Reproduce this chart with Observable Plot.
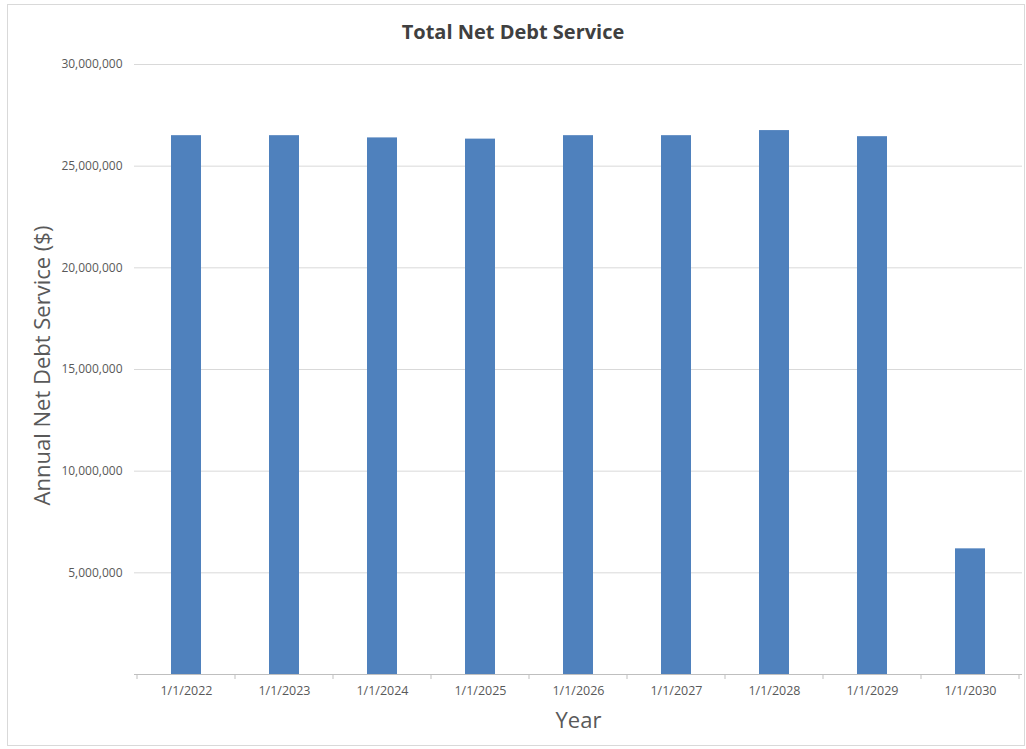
<!DOCTYPE html>
<html>
<head>
<meta charset="utf-8">
<script src="https://cdn.jsdelivr.net/npm/d3@7"></script>
<script src="https://cdn.jsdelivr.net/npm/@observablehq/plot@0.6"></script>
<style>
  html, body { margin: 0; padding: 0; background: #fff; }
  body { width: 1026px; height: 749px; position: relative; overflow: hidden; font-family: "Open Sans", sans-serif; }
  #frame { position: absolute; left: 7px; top: 4px; width: 1016px; height: 740px; border: 1px solid #d9d9d9; pointer-events: none; }
  #title { margin: 0; padding-top: 20px; height: 24px; line-height: 24px; text-align: center; font-size: 20px; font-weight: bold; color: #404040; }
  #chart svg { display: block; }
</style>
</head>
<body>
<div id="title">Total Net Debt Service</div>
<div id="chart"></div>
<div id="frame"></div>
<script>
const years = ["1/1/2022", "1/1/2023", "1/1/2024", "1/1/2025", "1/1/2026", "1/1/2027", "1/1/2028", "1/1/2029", "1/1/2030"];
const netDebtService = [26500000, 26500000, 26390000, 26330000, 26500000, 26500000, 26750000, 26450000, 6180000];
const yTicks = [5000000, 10000000, 15000000, 20000000, 25000000, 30000000];
const yTitle = "Annual Net Debt Service ($)";
const xTitle = "Year";

const data = years.map((year, i) => ({year, value: netDebtService[i]}));
const fmt = d3.format(",");

function categoryTicks(len) {
  return (index, scales) => {
    const x = scales.x;
    const bw = x.bandwidth ? x.bandwidth() : 0;
    const centers = years.map(d => x(d) + bw / 2);
    const step = centers[1] - centers[0];
    const bounds = centers.map(c => c - step / 2).concat([centers[centers.length - 1] + step / 2]);
    const y0 = scales.y(0);
    const g = d3.create("svg:g");
    g.selectAll("line").data(bounds).join("line")
      .attr("x1", d => d).attr("x2", d => d)
      .attr("y1", y0).attr("y2", y0 + len)
      .attr("stroke", "#bfbfbf");
    return g.node();
  };
}

const chart = Plot.plot({
  width: 1026,
  height: 700,
  marginTop: 20,
  marginBottom: 70,
  marginLeft: 134,
  marginRight: 4,
  style: {fontFamily: "'Open Sans', sans-serif", background: "#fff"},
  x: {domain: years, paddingInner: 0.69, paddingOuter: 0.345, label: null},
  y: {domain: [0, 30000000], label: null},
  marks: [
    Plot.gridY(yTicks, {stroke: "#d9d9d9", strokeOpacity: 1}),
    Plot.barY(data, {x: "year", y: "value", fill: "#4f81bd"}),
    Plot.ruleY([0], {stroke: "#bfbfbf"}),
    categoryTicks(5),
    Plot.axisY(yTicks, {tickSize: 0, tickPadding: 12, tickFormat: fmt, fontSize: 12, fill: "#595959", label: null}),
    Plot.axisX({tickSize: 0, tickPadding: 12, fontSize: 12.5, fill: "#595959", label: null}),
    Plot.text([yTitle], {frameAnchor: "left", textAnchor: "middle", rotate: -90, dx: -92, dy: -4, fontSize: 22, fill: "#595959"}),
    Plot.text([xTitle], {frameAnchor: "bottom", dy: 53, fontSize: 22, fill: "#595959"})
  ]
});
document.getElementById("chart").appendChild(chart);
</script>
</body>
</html>
